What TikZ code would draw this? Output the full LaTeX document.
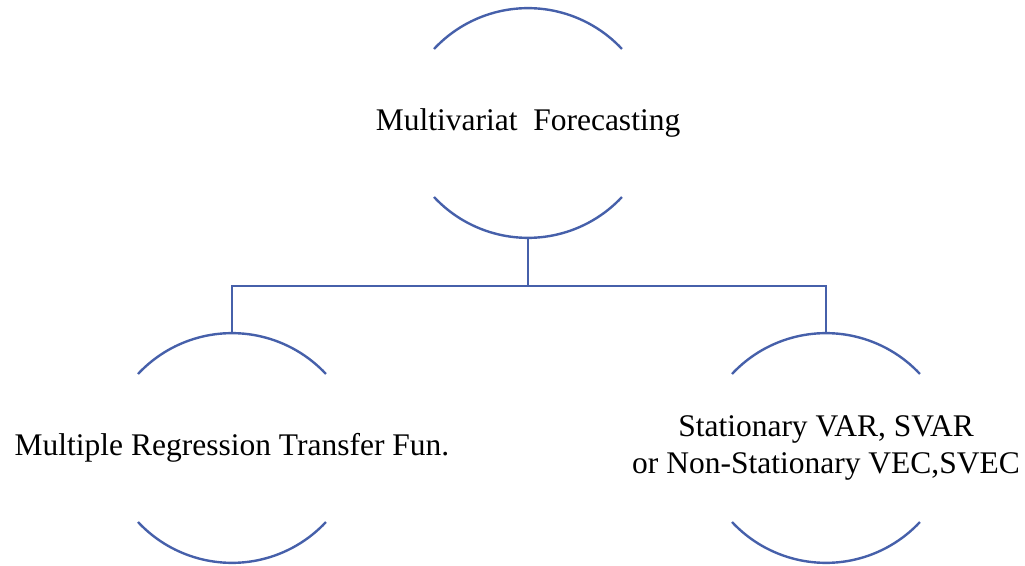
\documentclass[tikz,border=0pt]{standalone}
\usepackage{fontspec}
\setmainfont{Liberation Serif}
\definecolor{arcblue}{RGB}{70,96,170}
\tikzset{arcline/.style = {draw=arcblue, line width=2.4pt}}
\tikzset{lbl/.style = {font=\fontsize{31.5}{37}\selectfont, align=center, inner sep=0}}
% upper and lower arc round a label
\newcommand{\arcpair}[1]{%
  \draw [arcline] ([shift={(-94,74)}]#1.center) arc [start angle=137, end angle=43, radius=128.5pt];
  \draw [arcline] ([shift={(-94,-74)}]#1.center) arc [start angle=223, end angle=317, radius=128.5pt];
  \coordinate (#1-n) at ([yshift=115pt]#1.center);
  \coordinate (#1-s) at ([yshift=-115pt]#1.center);}

\begin{document}
\begin{tikzpicture}[x=1pt, y=1pt]
  \useasboundingbox (0,0) rectangle (1025,565);

  \node [lbl] (multi) at (528,442) {Multivariat\ \ Forecasting};
  \node [lbl] (regr) at (232,117) {Multiple Regression Transfer Fun.};
  \node [lbl] (var) at (826,117) {Stationary VAR, SVAR\\or Non-Stationary VEC,SVEC};

  \arcpair{multi}
  \arcpair{regr}
  \arcpair{var}

  \draw [arcline] (multi-s) -- ++(0,-48) coordinate (fork);
  \draw [arcline] (fork) -| (regr-n);
  \draw [arcline] (fork) -| (var-n);
\end{tikzpicture}
\end{document}
